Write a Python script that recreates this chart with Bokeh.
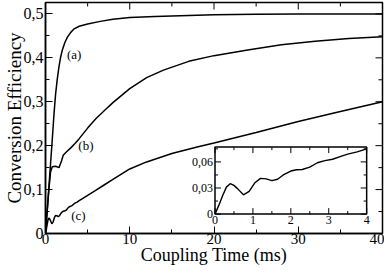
from bokeh.plotting import figure
from bokeh.models import Range1d, SingleIntervalTicker, CustomJSTickFormatter
from bokeh.core.properties import value
from bokeh.embed import file_html
from bokeh.resources import INLINE

# ---------------- data ----------------
t_a = [0, 0.4, 0.8, 1.0, 1.2, 1.4, 1.6, 1.8, 2.0, 2.3, 2.6, 3.0, 3.4, 4.0, 5.0,
       6.5, 8.0, 10.0, 13.0, 16.0, 20.0, 25.0, 30.0, 35.0, 40.0]
eff_a = [0, 0.105, 0.213, 0.27, 0.318, 0.352, 0.38, 0.402, 0.418, 0.435, 0.447,
         0.458, 0.466, 0.472, 0.477, 0.483, 0.488, 0.492, 0.494, 0.496, 0.498,
         0.499, 0.5, 0.5, 0.5]

t_b = [0, 0.2, 0.4, 0.6, 0.8, 1.2, 1.6, 1.9, 2.1, 2.5, 3.0, 3.5, 4.0, 5.0, 6.0,
       7.0, 8.0, 10.0, 12.0, 14.0, 17.0, 20.0, 24.0, 28.0, 32.0, 36.0, 40.0]
eff_b = [0, 0.05, 0.1, 0.14, 0.152, 0.153, 0.15, 0.165, 0.178, 0.186, 0.195,
         0.205, 0.216, 0.24, 0.262, 0.28, 0.298, 0.33, 0.355, 0.372, 0.392,
         0.405, 0.418, 0.43, 0.438, 0.444, 0.448]

t_c = [0, 0.1, 0.2, 0.3, 0.4, 0.5, 0.6, 0.75, 0.9, 1.05, 1.2, 1.35, 1.5, 1.65,
       1.8, 2.0, 2.15, 2.3, 2.5, 2.7, 2.9, 3.1, 3.3, 3.5, 3.75, 4.0,
       5.0, 6.0, 7.0, 8.0, 9.0, 10.0, 12.0, 15.0, 18.0, 20.0, 25.0, 30.0, 35.0, 40.0]
eff_c = [0, 0.01, 0.021, 0.031, 0.035, 0.033, 0.029, 0.0222, 0.026, 0.036,
         0.041, 0.0405, 0.0385, 0.040, 0.045, 0.0495, 0.051, 0.0513, 0.054,
         0.059, 0.0615, 0.063, 0.066, 0.069, 0.0715, 0.075,
         0.087, 0.099, 0.111, 0.123, 0.135, 0.147, 0.163, 0.182, 0.197, 0.206,
         0.23, 0.255, 0.278, 0.30]

curve_names = ["(a)", "(b)", "(c)"]
name_t = [3.4, 4.8, 3.9]
name_eff = [0.407, 0.201, 0.042]

# main mirrored ticks (top / right edges)
main_xmajor = [0, 10, 20, 30, 40]
main_xminor = [5, 15, 25, 35]
main_ymajor = [0, 0.1, 0.2, 0.3, 0.4, 0.5]
main_yminor = [0.05, 0.15, 0.25, 0.35, 0.45]

# inset ticks / labels
inset_xmajor = [0, 1, 2, 3, 4]
inset_xminor = [0.5, 1.5, 2.5, 3.5]
inset_xlabels = ["0", "1", "2", "3", "4"]
inset_ymajor = [0, 0.03, 0.06]
inset_yminor = [0.015, 0.045, 0.075]
inset_ylabels = ["0", "0,03", "0,06"]

# ---------------- figure ----------------
FONT = "Liberation Serif"
X_END, Y_END = 40, 0.526
IN_X0, IN_X1 = 0, 4          # inset data window
IN_Y0, IN_Y1 = 0, 0.077
FX0, FX1 = 0.503, 0.953      # inset placement, fractions of main frame
FY0, FY1 = 0.084, 0.374
UP, DOWN, RIGHT, LEFT = 1.5707963, -1.5707963, 0.0, 3.1415927

p = figure(width=384, height=267, output_backend="svg", toolbar_location=None,
           x_range=Range1d(0, X_END), y_range=Range1d(0, Y_END),
           x_axis_label="Coupling Time (ms)", y_axis_label="Conversion Efficiency",
           min_border_left=0, min_border_right=2, min_border_top=2,
           min_border_bottom=0)
p.grid.visible = False
p.outline_line_color = "black"
p.outline_line_width = 1.5
p.background_fill_color = "white"
p.border_fill_color = "white"

p.xaxis.ticker = SingleIntervalTicker(interval=10, num_minor_ticks=2)
p.yaxis.ticker = SingleIntervalTicker(interval=0.1, num_minor_ticks=2)
p.yaxis.formatter = CustomJSTickFormatter(
    code="return Math.abs(tick) < 1e-9 ? '0' : tick.toFixed(1).replace('.', ',');")

for ax in p.axis:
    ax.axis_line_color = "black"
    ax.axis_line_width = 1.5
    ax.major_tick_in = 7
    ax.major_tick_out = 0
    ax.minor_tick_in = 4
    ax.minor_tick_out = 0
    ax.major_tick_line_width = 1
    ax.minor_tick_line_width = 1
    ax.major_label_text_font = FONT
    ax.major_label_text_font_size = "16px"
    ax.major_label_text_color = "black"
    ax.major_label_standoff = 2
    ax.axis_label_text_font = FONT
    ax.axis_label_text_font_size = "19px"
    ax.axis_label_text_font_style = "normal"
    ax.axis_label_text_color = "black"
p.xaxis.major_label_text_font_size = "15px"
p.xaxis.axis_label_text_font_size = "18px"
p.xaxis.axis_label_standoff = -2
p.xaxis.major_label_standoff = 0
p.yaxis.axis_label_standoff = -4

# main curves
for tt, ee in ((t_a, eff_a), (t_b, eff_b), (t_c, eff_c)):
    p.line(tt, ee, line_color="black", line_width=1.5)

p.text(x=name_t, y=name_eff, text=curve_names, text_font=value(FONT),
       text_font_size="13px", text_align="center", text_baseline="middle",
       text_color="black")

# mirrored ticks on top and right edges of the main frame
def edge_ticks(xs, ys, length, angle, **kw):
    p.ray(x=xs, y=ys, length=length, length_units="screen", angle=angle,
          line_color="black", line_width=1, **kw)

edge_ticks(main_xmajor, [Y_END] * len(main_xmajor), 7, DOWN)
edge_ticks(main_xminor, [Y_END] * len(main_xminor), 4, DOWN)
edge_ticks([X_END] * len(main_ymajor), main_ymajor, 7, LEFT)
edge_ticks([X_END] * len(main_yminor), main_yminor, 4, LEFT)

# ---------------- inset via extra ranges ----------------
def _span(lo, hi, f0, f1):
    w = (hi - lo) / (f1 - f0)
    return lo - f0 * w, hi + (1 - f1) * w

ix0, ix1 = _span(IN_X0, IN_X1, FX0, FX1)
iy0, iy1 = _span(IN_Y0, IN_Y1, FY0, FY1)
p.extra_x_ranges = {"ix": Range1d(ix0, ix1)}
p.extra_y_ranges = {"iy": Range1d(iy0, iy1)}
R = dict(x_range_name="ix", y_range_name="iy")

p.quad(left=[IN_X0], right=[IN_X1], bottom=[IN_Y0], top=[IN_Y1],
       fill_color="white", line_color="black", line_width=1.5, **R)

ti = [t for t in t_c if t <= IN_X1]
ei = [e for t, e in zip(t_c, eff_c) if t <= IN_X1]
p.line(ti, ei, line_color="black", line_width=1.4, **R)

for vals, ln in ((inset_xmajor, 6), (inset_xminor, 3)):
    edge_ticks(vals, [IN_Y0] * len(vals), ln, UP, **R)
    edge_ticks(vals, [IN_Y1] * len(vals), ln, DOWN, **R)
for vals, ln in ((inset_ymajor, 6), (inset_yminor, 3)):
    edge_ticks([IN_X0] * len(vals), vals, ln, RIGHT, **R)
    edge_ticks([IN_X1] * len(vals), vals, ln, LEFT, **R)

p.text(x=inset_xmajor, y=[IN_Y0] * len(inset_xmajor), text=inset_xlabels,
       text_font=value(FONT), text_font_size="12px", text_align="center",
       text_baseline="top", y_offset=2, text_color="black", **R)
p.text(x=[IN_X0] * len(inset_ymajor), y=inset_ymajor, text=inset_ylabels,
       text_font=value(FONT), text_font_size="12px", text_align="right",
       text_baseline="middle", x_offset=-2, text_color="black", **R)

open("out.html", "w").write(file_html(p, INLINE))
